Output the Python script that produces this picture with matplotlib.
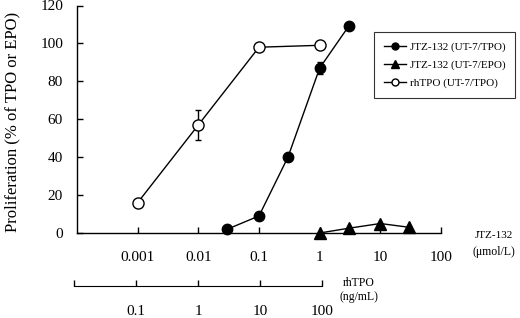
import matplotlib
matplotlib.use("Agg")
import matplotlib.pyplot as plt
import numpy as np
from matplotlib.lines import Line2D

plt.rcParams['font.family'] = ['Liberation Serif', 'DejaVu Serif']

# Data
rh_x = [0.001, 0.01, 0.1, 1]            # plotted on JTZ scale (0.1 ng/mL -> 0.001)
rh_y = [16, 57, 98, 99]
rh_err = [0, 8, 0, 0]
tpo_x = [0.03, 0.1, 0.3, 1, 3]
tpo_y = [2, 9, 40, 87, 109]
tpo_err = [0, 0, 0, 3, 0]
epo_x = [1, 3, 10, 30]
epo_y = [0, 2.5, 5, 3]

main_ticks = [0.001, 0.01, 0.1, 1, 10, 100]
main_labels = ['0.001', '0.01', '0.1', '1', '10', '100']
rh_ticks = [0.1, 1, 10, 100]
rh_labels = ['0.1', '1', '10', '100']
y_ticks = [0, 20, 40, 60, 80, 100, 120]
legend_labels = ['JTZ-132 (UT-7/TPO)', 'JTZ-132 (UT-7/EPO)', 'rhTPO (UT-7/TPO)']

W, H = 520, 318
fig = plt.figure(figsize=(W/100, H/100), dpi=100)

def fx(px): return px / W
def fy(py): return 1 - py / H

AX_L, AX_R, AX_B, AX_T = 77, 441, 233, 5.5
ax = fig.add_axes([fx(AX_L), fy(AX_B), fx(AX_R) - fx(AX_L), fy(AX_T) - fy(AX_B)])
ax.set_xscale('log')
ax.set_xlim(1e-4, 100)
ax.set_ylim(0, 120)
ax.spines['top'].set_visible(False)
ax.spines['right'].set_visible(False)
for s in ['left', 'bottom']:
    ax.spines[s].set_linewidth(1.0)
ax.set_xticks(main_ticks)
ax.set_xticklabels(main_labels)
ax.xaxis.set_minor_locator(matplotlib.ticker.NullLocator())
ax.set_yticks(y_ticks)
ax.tick_params(axis='both', direction='in', length=4, width=1.0, labelsize=11)
ax.tick_params(axis='x', pad=13)
ax.tick_params(axis='y', pad=10)
ax.set_ylabel('Proliferation (% of TPO or EPO)', fontsize=12)
ax.yaxis.set_label_coords((20 - AX_L) / (AX_R - AX_L), (AX_B - 122) / (AX_B - AX_T))

ax.errorbar(tpo_x, tpo_y, yerr=tpo_err, color='black', marker='o', ms=7.5,
            mfc='black', mec='black', lw=1, capsize=2.5, elinewidth=1,
            clip_on=False, zorder=3)
ax.plot(epo_x, epo_y, color='black', marker='^', ms=8.5, mfc='black', lw=1,
        clip_on=False, zorder=3)
ax.errorbar(rh_x, rh_y, yerr=rh_err, color='black', marker='o', ms=8,
            mfc='white', mec='black', lw=1, capsize=2.5, elinewidth=1,
            clip_on=False, zorder=3)

handles = [Line2D([], [], color='black', marker='o', ms=5, mfc='black', lw=1),
           Line2D([], [], color='black', marker='^', ms=5.5, mfc='black', lw=1),
           Line2D([], [], color='black', marker='o', ms=5, mfc='white', lw=1)]
leg = fig.legend(handles, legend_labels, loc='upper left',
                 bbox_to_anchor=(fx(374), fy(32)), fontsize=8,
                 frameon=True, fancybox=False, edgecolor='black',
                 handlelength=2.0, handletextpad=0.3, labelspacing=0.7,
                 borderpad=0.9, borderaxespad=0)
leg.get_frame().set_linewidth(0.8)

# Secondary rhTPO axis
ax2 = fig.add_axes([fx(74), fy(285.5), fx(322) - fx(74), 0.0001])
ax2.set_xscale('log')
ax2.set_xlim(0.01, 100)
for s in ['top', 'right', 'left']:
    ax2.spines[s].set_visible(False)
ax2.patch.set_visible(False)
ax2.set_yticks([])
ax2.set_xticks([0.01] + rh_ticks)
ax2.set_xticklabels([''] + rh_labels)
ax2.xaxis.set_minor_locator(matplotlib.ticker.NullLocator())
ax2.tick_params(axis='x', direction='in', length=4, width=1.0, labelsize=11, pad=14)

fig.text(fx(494), fy(235), 'JTZ-132', ha='center', va='center', fontsize=8)
fig.text(fx(494), fy(252), '(\u03bcmol/L)', ha='center', va='center', fontsize=8.5)
fig.text(fx(359), fy(283), 'rhTPO', ha='center', va='center', fontsize=8.5)
fig.text(fx(359), fy(297), '(ng/mL)', ha='center', va='center', fontsize=8.5)

fig.savefig('out.png', dpi=100)
